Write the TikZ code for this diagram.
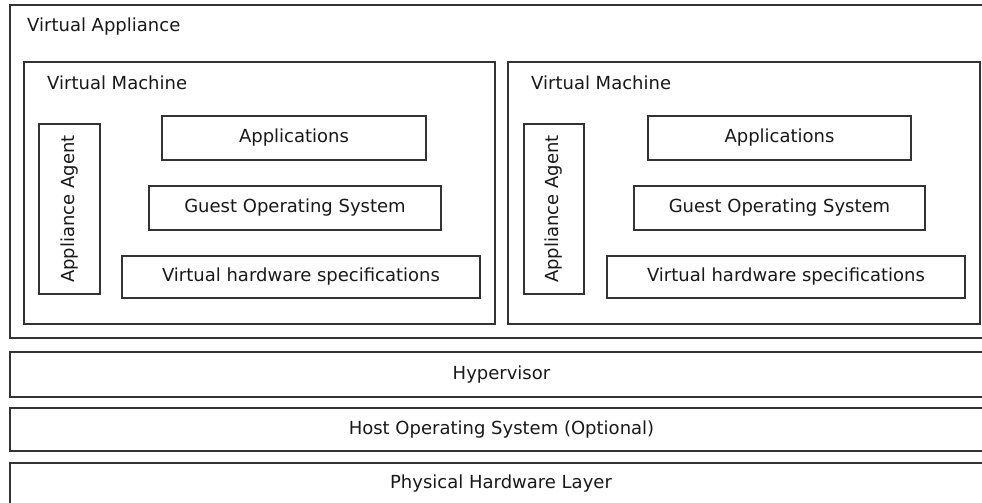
\documentclass[tikz,border=0pt]{standalone}
\usepackage{fontspec}
\setmainfont{DejaVu Sans}
\tikzset{
  box/.style={draw=black!80, line width=1.6pt, rectangle, inner sep=0pt, outer sep=0pt,
    font=\fontsize{18}{21}\selectfont, text=black!90},
  lbl/.style={inner sep=0pt, font=\fontsize{18}{21}\selectfont, text=black!90}
}
\newcommand\mybox[6]{\node[box, minimum width={(#4-#2)*1pt}, minimum height={(#5-#3)*1pt}] (#1) at ({(#2+#4)/2},{(#3+#5)/2}) {#6};}
\begin{document}
\begin{tikzpicture}[x=1pt,y=-1pt]
\useasboundingbox (0,0) rectangle (982,503);
\clip (0,0) rectangle (982,503);
\fill[white] (0,0) rectangle (982,503);
% outer appliance
\mybox{appl}{10}{5}{1000}{338}{}
\node[lbl, anchor=west] (applt) at (27,27) {Virtual Appliance};
% VM 1
\mybox{vmA}{24}{62}{495}{324}{}
\node[lbl, anchor=west] (vmAt) at (47,83) {Virtual Machine};
\mybox{agA}{39}{124}{100}{294}{}
\node[lbl, rotate=90] (agAt) at (agA.center) {Appliance Agent};
\mybox{apA}{162}{116}{426}{160}{Applications}
\mybox{gosA}{149}{186}{441}{230}{Guest Operating System}
\mybox{vhA}{122}{256}{480}{298}{Virtual hardware specifications}
% VM 2
\mybox{vmB}{508}{62}{980}{324}{}
\node[lbl, anchor=west] (vmBt) at (531,83) {Virtual Machine};
\mybox{agB}{524}{124}{584}{294}{}
\node[lbl, rotate=90] (agBt) at (agB.center) {Appliance Agent};
\mybox{apB}{648}{116}{911}{160}{Applications}
\mybox{gosB}{634}{186}{925}{230}{Guest Operating System}
\mybox{vhB}{607}{256}{965}{298}{Virtual hardware specifications}
% layers
\mybox{hyp}{10}{352}{993}{397}{Hypervisor}
\mybox{host}{10}{408}{993}{451}{Host Operating System (Optional)}
\mybox{phys}{10}{463}{993}{525}{}
\node[lbl] (physt) at (501,484) {Physical Hardware Layer};
\end{tikzpicture}
\end{document}
